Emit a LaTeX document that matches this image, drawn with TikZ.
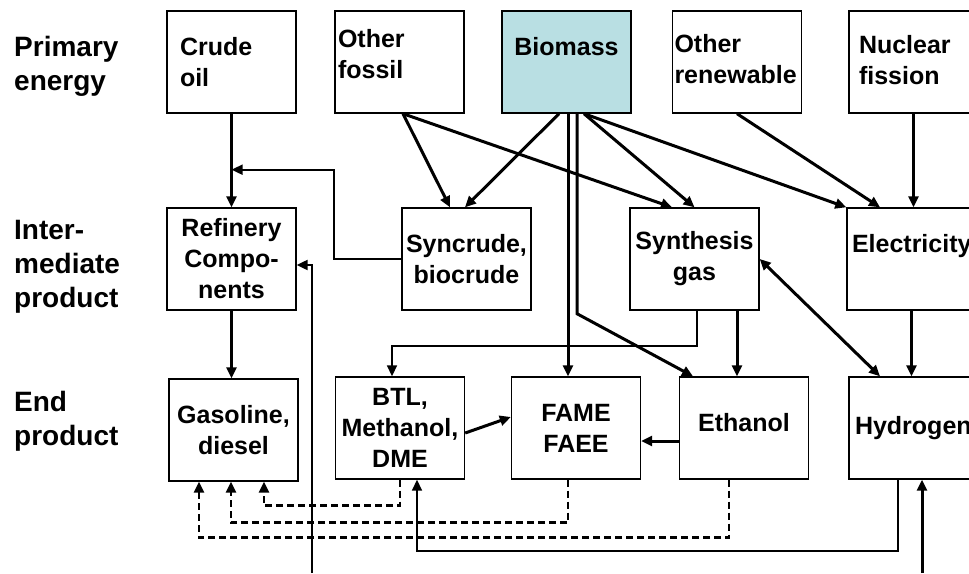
\documentclass[tikz,border=0pt]{standalone}
\usepackage{fontspec}
\setmainfont{Liberation Sans}
\usetikzlibrary{arrows.meta}
\definecolor{biomassblue}{RGB}{185,223,227}
\newcommand{\boxfont}{\fontsize{25pt}{31pt}\selectfont\bfseries}
\newcommand{\rowfont}{\fontsize{28pt}{34pt}\selectfont\bfseries}
\tikzstyle{block} = [draw, rectangle, line width=1.4pt, minimum height=102pt, minimum width=129pt, inner sep=0pt, align=center, font=\boxfont]
\tikzstyle{leftblock} = [block, align=left]
\tikzstyle{rowlabel} = [anchor=west, inner sep=0pt, align=left, font=\rowfont]
\tikzstyle{wire} = [-{Triangle[length=11pt,width=10pt]}, line width=3pt]
\tikzstyle{thinwire} = [wire, line width=1.7pt]
\tikzstyle{dwire} = [wire, {Triangle[length=11pt,width=10pt]}-{Triangle[length=11pt,width=10pt]}]
\tikzstyle{dashwire} = [wire, line width=2.6pt, dash pattern=on 7pt off 4pt]

\begin{document}
\begin{tikzpicture}[x=1pt, y=1pt]
    \path[use as bounding box, fill=white] (0,0) rectangle (969,-573);

    \node[rowlabel] (lblprim) at (14,-66) {Primary\\energy};
    \node[rowlabel] (lblinter) at (14,-267) {Inter-\\mediate\\product};
    \node[rowlabel] (lblend) at (14,-421) {End\\product};

    \node[leftblock, inner xsep=13pt, text width=103pt] (crude) at (231.5,-62) {Crude\\oil};
    \node[leftblock, right of=crude, node distance=168pt, inner xsep=3pt, text width=123pt] (fossil) {Other\\fossil\\[-15pt]\mbox{}};
    \node[block, fill=biomassblue, right of=fossil, node distance=167pt] (biomass) {Biomass\\\mbox{}};
    \node[leftblock, right of=biomass, node distance=170.5pt, inner xsep=2pt, text width=125pt] (renew) {Other\\renewable\\[-25pt]\mbox{}};
    \node[leftblock, right of=renew, node distance=176.5pt, inner xsep=10pt, text width=109pt] (nuclear) {Nuclear\\fission\\[-27pt]\mbox{}};

    \node[block, below of=crude, node distance=197pt] (refinery) {Refinery\\Compo-\\nents};
    \node[block, right of=refinery, node distance=235pt] (syncrude) {Syncrude,\\biocrude};
    \node[block, right of=syncrude, node distance=228pt] (syngas) {Synthesis\\gas};
    \node[leftblock, right of=syngas, node distance=217pt, inner xsep=5pt, text width=119pt] (elec) {Electricity\\\mbox{}};

    \node[block, below of=refinery, node distance=171pt, xshift=2pt] (gasoline) {Gasoline,\\diesel};
    \node[block, right of=gasoline, node distance=166.5pt, yshift=2pt] (btl) {BTL,\\Methanol,\\DME};
    \node[block, right of=btl, node distance=176pt] (fame) {FAME\\FAEE};
    \node[block, right of=fame, node distance=168pt] (ethanol) {Ethanol\\[-19pt]\mbox{}};
    \node[leftblock, right of=ethanol, node distance=169.5pt, inner xsep=6pt, text width=117pt] (hydrogen) {Hydrogen};

    \coordinate (join) at ([yshift=-56pt]crude.south);
    \coordinate (feedref) at (312,-573);
    \coordinate (feedhyd) at (922,-573);

    \draw[wire] (crude) -- (refinery);
    \draw[thinwire] (syncrude.west) -- ++(-67,0) |- (join);
    \draw[wire] ([xshift=3.5pt]fossil.south) -- ([xshift=-16.5pt]syncrude.north);
    \draw[wire] ([xshift=3.5pt]fossil.south) -- ([xshift=-22.5pt]syngas.north);
    \draw[wire] ([xshift=-7.5pt]biomass.south) -- ([xshift=-1.5pt]syncrude.north);
    \draw[wire] ([xshift=1.5pt]biomass.south) -- ([xshift=1.5pt]biomass.south |- fame.north);
    \draw[wire] ([xshift=10.5pt]biomass.south) -- ++(0,-200) -- ([xshift=-51pt]ethanol.north);
    \draw[wire] ([xshift=17.5pt]biomass.south) -- (syngas.north);
    \draw[wire] ([xshift=17.5pt]biomass.south) -- (elec.north west);
    \draw[wire] (renew.south) -- ([xshift=-31.5pt]elec.north);
    \draw[wire] (nuclear.south) -- (nuclear.south |- elec.north);

    \draw[thinwire] ([xshift=2.5pt]syngas.south) -- ++(0,-35) -| ([xshift=-8pt]btl.north);
    \draw[wire] ([xshift=42.5pt]syngas.south) -- ([xshift=42.5pt]syngas.south |- ethanol.north);
    \draw[dwire] (syngas.east) -- ([xshift=-33.5pt]hydrogen.north);
    \draw[wire] (elec.south) -- (elec.south |- hydrogen.north);
    \draw[wire] (refinery) -- (refinery.south |- gasoline.north);
    \draw[thinwire, line width=2.2pt] (feedref) |- ([yshift=-6pt]refinery.east);

    \draw[wire] ([yshift=-5pt]btl.east) -- ([yshift=11pt]fame.west);
    \draw[wire] ([yshift=-13pt]ethanol.west) -- ([yshift=-13pt]fame.east);
    \draw[dashwire] (btl.south) -- ++(0,-26) -| ([xshift=30.5pt]gasoline.south);
    \draw[dashwire] ([xshift=-8pt]fame.south) -- ++(0,-43) -| ([xshift=-2.5pt]gasoline.south);
    \draw[dashwire] ([xshift=-15pt]ethanol.south) -- ++(0,-58) -| ([xshift=-34.5pt]gasoline.south);
    \draw[thinwire] ([xshift=-15.5pt]hydrogen.south) -- ++(0,-71) -| ([xshift=17pt]btl.south);
    \draw[wire] (feedhyd) -- (feedhyd |- hydrogen.south);
\end{tikzpicture}
\end{document}
